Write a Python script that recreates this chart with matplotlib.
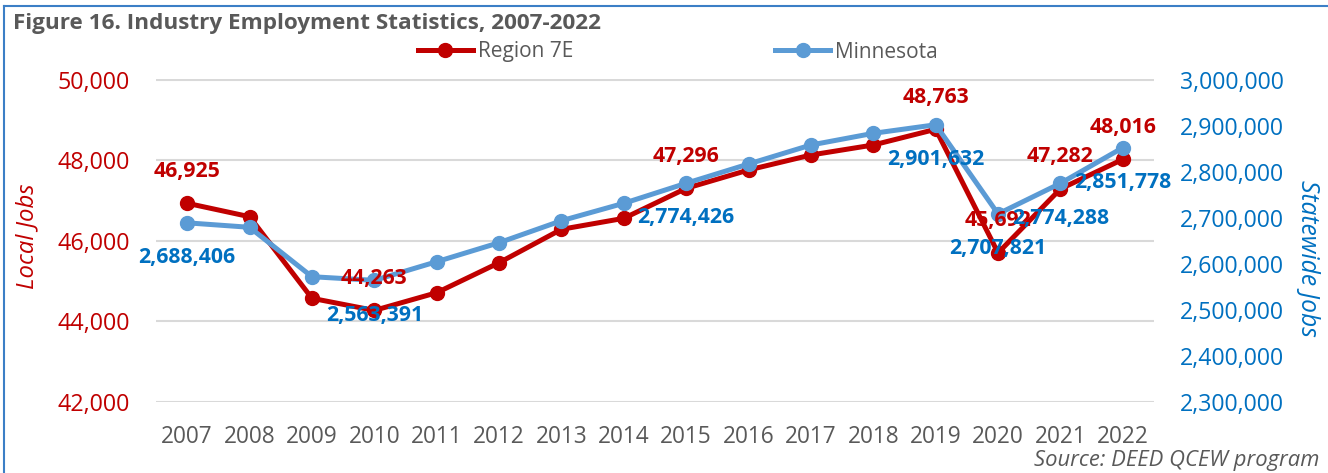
import matplotlib
matplotlib.use('Agg')
import matplotlib.pyplot as plt
from matplotlib.ticker import FixedLocator, FuncFormatter
from matplotlib.lines import Line2D

# ---------------- data ----------------
years = [2007, 2008, 2009, 2010, 2011, 2012, 2013, 2014, 2015, 2016,
         2017, 2018, 2019, 2020, 2021, 2022]
region_7e = [46925, 46591, 44564, 44263, 44703, 45448, 46278, 46551, 47296,
             47752, 48124, 48373, 48763, 45692, 47282, 48016]
minnesota = [2688406, 2678700, 2571300, 2563391, 2603900, 2645200, 2693000,
             2730900, 2774426, 2816300, 2857600, 2883000, 2901632, 2707821,
             2774288, 2851778]
labeled_years = [2007, 2010, 2015, 2019, 2020, 2021, 2022]
left_ticks = [42000, 44000, 46000, 48000, 50000]
right_ticks = [2300000, 2400000, 2500000, 2600000, 2700000, 2800000, 2900000, 3000000]

title = "Figure 16. Industry Employment Statistics, 2007-2022"
source = "Source: DEED QCEW program"

# ---------------- style ----------------
FONT = 'Open Sans'
RED = '#C00000'
BLUE_LINE = '#5B9BD5'
BLUE_TEXT = '#0070C0'
GRAY = '#595959'
GRID = '#D9D9D9'

W, H = 1328, 473
fig = plt.figure(figsize=(W / 100, H / 100), dpi=100)
fig.patch.set_facecolor('white')
renderer = fig.canvas.get_renderer()


def fit(text, target_px, weight='normal', style='normal'):
    t = fig.text(0, 0, text, fontsize=10, family=FONT, weight=weight, style=style)
    w = t.get_window_extent(renderer).width
    t.remove()
    return 10 * target_px / w


def fx(px):
    return px / W


def fy(py):
    return 1 - py / H


# axes placement (pixels)
L, R, T, B = 156, 1154, 79.5, 401.5
ax = fig.add_axes([fx(L), fy(B), fx(R - L), (B - T) / H])
ax2 = ax.twinx()

x = list(range(len(years)))

red_line, = ax.plot(x, region_7e, color=RED, lw=3.6, marker='o', ms=10,
                    mec=RED, mfc=RED, zorder=3, label='Region 7E',
                    solid_joinstyle='round')
blue_line, = ax2.plot(x, minnesota, color=BLUE_LINE, lw=3.6, marker='o', ms=10,
                      mec=BLUE_LINE, mfc=BLUE_LINE, zorder=3, label='Minnesota',
                      solid_joinstyle='round')

ax.set_xlim(-0.5, len(years) - 0.5)
ax.set_ylim(42000, 50000)
ax2.set_ylim(2300000, 3000000)

ax.yaxis.set_major_locator(FixedLocator(left_ticks))
ax2.yaxis.set_major_locator(FixedLocator(right_ticks))
ax.yaxis.set_major_formatter(FuncFormatter(lambda v, p: f"{int(v):,}"))
ax2.yaxis.set_major_formatter(FuncFormatter(lambda v, p: f"{int(v):,}"))
ax.set_xticks(x)
ax.set_xticklabels([str(y) for y in years])

for a in (ax, ax2):
    for s in a.spines.values():
        s.set_visible(False)
    a.patch.set_visible(False)

ax.yaxis.grid(True, color=GRID, lw=1.5, zorder=0)
ax.set_axisbelow(True)

fs_left = fit("50,000", 73)
fs_right = fit("3,000,000", 105)
fs_x = fit("2007", 52)
ax.tick_params(axis='y', length=0, pad=26 * 0.72, labelsize=fs_left, labelcolor=RED)
ax2.tick_params(axis='y', length=0, pad=26 * 0.72, labelsize=fs_right, labelcolor=BLUE_TEXT)
ax.tick_params(axis='x', length=0, pad=17, labelsize=fs_x, labelcolor=GRAY)
for lab in ax.get_yticklabels() + ax2.get_yticklabels() + ax.get_xticklabels():
    lab.set_family(FONT)

# data labels
fs_lab = fit("46,925", 67, weight='bold')
for yr in labeled_years:
    i = years.index(yr)
    ax2.annotate(f"{region_7e[i]:,}", xy=(i, region_7e[i]), xycoords=ax.transData,
                 xytext=(0, 23), textcoords='offset points', ha='center', va='center',
                 color=RED, fontsize=fs_lab, weight='bold', family=FONT, zorder=5)
for yr in labeled_years:
    i = years.index(yr)
    ax2.annotate(f"{minnesota[i]:,}", xy=(i, minnesota[i]), xycoords=ax2.transData,
                 xytext=(0, -25), textcoords='offset points', ha='center', va='center',
                 color=BLUE_TEXT, fontsize=fs_lab, weight='bold', family=FONT, zorder=6)

# axis titles
fs_lj = fit("Local Jobs", 105, style='italic')
fig.text(fx(27), fy(236), "Local Jobs", rotation=90, ha='center', va='center',
         color=RED, fontsize=fs_lj, style='italic', family=FONT)
fs_sj = fit("Statewide Jobs", 157, style='italic')
fig.text(fx(1308), fy(258), "Statewide Jobs", rotation=-90, ha='center', va='center',
         color=BLUE_TEXT, fontsize=fs_sj, style='italic', family=FONT)

# title and source
fs_t = fit(title, 588, weight='bold')
fig.text(fx(13), fy(23), title, ha='left', va='center', color=GRAY,
         fontsize=fs_t, weight='bold', family=FONT)
fs_s = fit(source, 285, style='italic')
fig.text(fx(1319), fy(460), source, ha='right', va='center', color=GRAY,
         fontsize=fs_s, style='italic', family=FONT)

# legend
fs_leg = fit("Minnesota", 103)
px_per_fs = fs_leg * 100 / 72
leg = fig.legend(handles=[red_line, blue_line], labels=['Region 7E', 'Minnesota'],
                 ncol=2, loc='center left', bbox_to_anchor=(fx(418), fy(52)),
                 frameon=False, borderpad=0, borderaxespad=0,
                 handlelength=55 / px_per_fs, handletextpad=5 / px_per_fs,
                 columnspacing=202 / px_per_fs, numpoints=1,
                 prop={'family': FONT, 'size': fs_leg})
for t in leg.get_texts():
    t.set_color(GRAY)

# border (top and left)
fig.add_artist(Line2D([fx(4), fx(4)], [fy(6), 0], transform=fig.transFigure,
                      color='#3C7FC6', lw=1.5))
fig.add_artist(Line2D([fx(4), 1], [fy(6), fy(6)], transform=fig.transFigure,
                      color='#3C7FC6', lw=1.5))

fig.savefig('out.png', dpi=100, facecolor='white')
